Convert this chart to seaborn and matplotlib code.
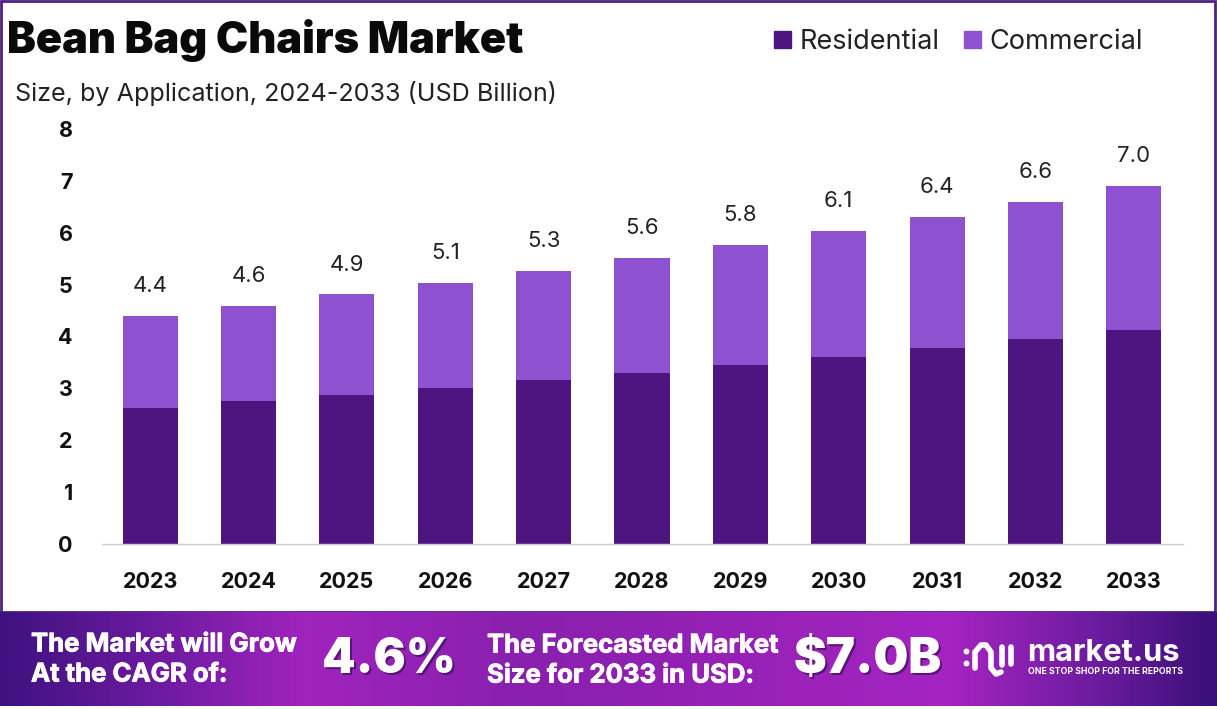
import numpy as np
import pandas as pd
import matplotlib
matplotlib.use("Agg")
import matplotlib.pyplot as plt
import matplotlib.patheffects as pe
from matplotlib.colors import LinearSegmentedColormap
from matplotlib.patches import Rectangle
import seaborn as sns

years = ["2023","2024","2025","2026","2027","2028","2029","2030","2031","2032","2033"]
residential = [2.63,2.76,2.88,3.01,3.17,3.30,3.46,3.61,3.78,3.96,4.13]
commercial = [1.77,1.83,1.93,2.03,2.10,2.22,2.31,2.43,2.53,2.64,2.78]
totals = ["4.4","4.6","4.9","5.1","5.3","5.6","5.8","6.1","6.4","6.6","7.0"]
y_ticks = [0,1,2,3,4,5,6,7,8]

W, H = 1217, 709
sns.set_theme(style="white")
plt.rcParams['font.family'] = ['Inter', 'DejaVu Sans']
DARK = "#4E1580"
LIGHT = "#8E52D0"

fig = plt.figure(figsize=(W/100, H/100), dpi=100, facecolor="white")
def fx(p): return p/W
def fy(p): return 1-p/H

ax = fig.add_axes([fx(102), fy(544), fx(1183)-fx(102), (544-129)/H])
df = pd.DataFrame({"year": years, "Residential": residential, "Commercial": commercial})
sns.barplot(data=df, x="year", y="Residential", color=DARK, saturation=1, width=0.56, ax=ax, linewidth=0)
sns.barplot(data=df, x="year", y="Commercial", bottom=df["Residential"], color=LIGHT,
            saturation=1, width=0.56, ax=ax, linewidth=0)
ax.set_xlim(-0.49, 10.5)
ax.set_ylim(0, 8)
ax.set_xlabel(""); ax.set_ylabel("")
for s in ["top","left","right"]:
    ax.spines[s].set_visible(False)
ax.spines["bottom"].set_color("#CFCFCF")
ax.spines["bottom"].set_linewidth(1)
ax.set_yticks(y_ticks)
ax.tick_params(axis="x", length=0, pad=20.5)
ax.tick_params(axis="y", length=0, pad=21)
for t in ax.get_xticklabels() + ax.get_yticklabels():
    t.set_fontsize(15.5); t.set_fontweight("bold"); t.set_color("#111111")
for i, (r, c, lab) in enumerate(zip(residential, commercial, totals)):
    ax.annotate(lab, (i, r+c), xytext=(0, 21.5), textcoords="offset points", ha="center",
                va="center", fontsize=16, color="#222222")

# title / subtitle
fig.text(fx(7), fy(41), "Bean Bag Chairs Market", fontsize=31.2, fontweight="black",
         color="#0A0A0A", va="center", ha="left")
fig.text(fx(15), fy(94), "Size, by Application, 2024-2033 (USD Billion)", fontsize=18.1,
         color="#222222", va="center", ha="left")

# legend
handles = [Rectangle((0,0),1,1,color=DARK), Rectangle((0,0),1,1,color=LIGHT)]
fig.legend(handles, ["Residential","Commercial"], loc="center left",
           bbox_to_anchor=(fx(774), fy(42)), ncol=2, frameon=False, fontsize=19.5,
           borderaxespad=0, borderpad=0,
           handlelength=0.63, handleheight=0.63, handletextpad=0.3, columnspacing=0.93,
           labelcolor="#222222")

# frame
fig.add_artist(Rectangle((fx(1), fy(612)), fx(1214), 611/H, transform=fig.transFigure,
                         fill=False, ec="#4E1F80", lw=2))

# banner
bax = fig.add_axes([0, 3/H, 1, 94/H], zorder=5)
cmap = LinearSegmentedColormap.from_list("b", [(0,"#3F1280"),(0.12,"#6A1A9E"),(0.25,"#A024BE"),
    (0.42,"#8A20AE"),(0.5,"#8E20B0"),(0.78,"#A524C2"),(0.9,"#6E1CA0"),(1,"#3A1078")])
bax.imshow(np.linspace(0,1,600).reshape(1,-1), aspect="auto", cmap=cmap, extent=[0,W,706,612])
bax.set_xlim(0,W); bax.set_ylim(706,612); bax.axis("off")
def btxt(x, y, s, size):
    t = bax.text(x, y, s, color="white", fontsize=size, fontweight="bold", va="center", ha="left")
    t.set_path_effects([pe.withStroke(linewidth=0.6, foreground="white")])
def bshadow(x, y, s, size):
    bax.text(x+2, y+2, s, color="#3A0F60", alpha=0.7, fontsize=size, fontweight="black", va="center", ha="left")
    bax.text(x, y, s, color="white", fontsize=size, fontweight="black", va="center", ha="left")
btxt(31, 645, "The Market will Grow", 18.5)
btxt(31, 675, "At the CAGR of:", 18.5)
bshadow(322, 660, "4.6%", 34.5)
btxt(487, 646, "The Forecasted Market", 18.5)
btxt(487, 676, "Size for 2033 in USD:", 18.5)
bshadow(794, 660, "$7.0B", 35.5)
# logo glyph
lw = 4
bax.plot([966],[651],"o",color="white",ms=3.2); bax.plot([966],[663],"o",color="white",ms=3.2)
bax.plot([975,975,981,986,991,991,996,1001],[668,652,645,645,652,668,674,672],
         color="white",lw=lw,solid_capstyle="round",solid_joinstyle="round")
bax.plot([1002,1002],[647,665],color="white",lw=lw,solid_capstyle="round")
bax.plot([1011,1011],[647,664],color="white",lw=lw,solid_capstyle="round")
bax.text(1027, 653, "market.us", color="white", fontsize=22.2, fontweight="bold", va="center", ha="left")
bax.text(1028, 671.5, "ONE STOP SHOP FOR THE REPORTS", color="white", fontsize=6.3, fontweight="bold", va="center", ha="left")

fig.savefig("out.png", dpi=100)
